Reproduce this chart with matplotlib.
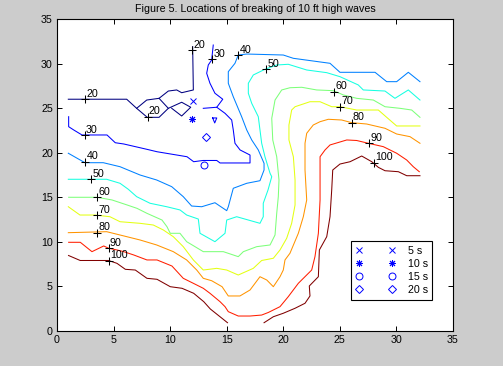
import matplotlib
matplotlib.use('Agg')
import matplotlib.pyplot as plt
from matplotlib.lines import Line2D

plt.rcParams['font.family'] = ['Liberation Sans', 'DejaVu Sans']

# contour levels (wave height index) and the traced contour pieces
levels = [20, 30, 40, 50, 60, 70, 80, 90, 100]

c20 = [
    [(1.0, 26.0), (6.16, 26.0), (7.04, 24.98), (7.98, 23.97), (9.02, 23.97), (9.84, 24.98),
     (11.02, 25.66), (11.82, 25.1), (11.02, 24.12), (10.14, 24.98)],
    [(7.04, 24.98), (7.93, 25.91), (9.02, 26.1), (9.84, 26.92), (10.58, 27.04), (11.02, 26.73),
     (12.05, 27.04), (11.99, 31.9)],
    [(9.02, 26.1), (9.84, 24.98)],
]
c30 = [
    [(1.03, 24.04), (1.03, 22.92), (1.48, 22.55), (2.21, 21.99), (4.42, 21.99), (5.15, 21.12),
     (5.9, 20.98), (7.95, 20.38), (8.84, 20.11), (11.49, 19.55), (12.08, 18.99), (12.9, 19.13),
     (14.12, 19.13), (14.41, 18.85), (17.06, 18.85), (17.06, 19.74), (16.18, 20.31), (15.73, 21.06),
     (15.58, 22.55), (15.44, 23.67), (14.85, 24.42), (14.12, 25.1), (12.93, 24.98)],
    [(13.81, 32.08), (13.67, 30.4), (13.37, 29.84), (13.23, 28.91), (13.52, 27.79), (13.96, 26.67),
     (14.65, 26.0), (14.12, 25.1)],
    [(13.76, 23.9), (14.12, 23.9), (13.94, 23.34), (13.76, 23.9)],
]
c40 = [
    [(32.08, 27.97), (31.05, 29.02), (30.02, 27.97), (29.14, 27.97), (28.11, 29.02), (25.01, 29.02),
     (24.13, 30.03), (20.89, 30.59), (20.0, 30.96), (16.77, 31.07), (16.02, 30.96), (15.73, 30.03),
     (15.14, 29.09), (15.14, 27.79), (15.58, 26.28), (16.32, 24.04), (16.77, 22.55), (17.21, 21.43),
     (17.79, 20.31), (18.3, 18.81), (18.3, 18.06), (17.94, 16.86), (16.77, 16.57), (15.58, 16.01),
     (15.14, 13.94), (15.0, 13.5), (13.96, 14.39), (12.79, 13.94), (11.9, 14.02), (11.16, 15.07),
     (10.14, 16.19), (8.81, 16.94), (7.34, 17.5), (5.57, 18.43), (4.09, 18.88), (2.47, 18.88),
     (1.0, 19.94)],
]
c50 = [
    [(32.08, 25.91), (31.05, 27.04), (29.87, 26.1), (28.99, 26.92), (27.07, 27.04), (26.63, 27.6),
     (25.01, 28.53), (23.84, 28.98), (22.07, 29.28), (20.44, 29.92), (19.42, 29.84), (18.38, 29.36),
     (17.35, 28.72), (16.91, 27.79), (16.91, 26.67), (17.21, 25.54), (17.79, 24.04), (17.94, 22.55),
     (18.09, 21.06), (18.38, 19.55), (18.83, 17.69), (18.98, 17.31), (18.65, 15.82), (18.23, 14.33),
     (18.23, 12.82), (17.94, 12.08), (16.91, 12.45), (15.88, 12.82), (15.0, 12.45), (14.85, 10.96),
     (13.96, 10.02), (12.64, 10.96), (12.49, 12.56), (11.46, 13.01), (10.87, 13.58), (9.7, 13.94),
     (8.22, 14.33), (7.04, 15.07), (6.3, 15.9), (5.57, 16.57), (4.39, 17.02), (1.0, 17.02)],
]
c60 = [
    [(32.08, 23.97), (31.35, 24.79), (30.32, 24.98), (28.99, 25.16), (27.96, 25.91), (26.49, 26.1),
     (25.31, 26.48), (24.42, 26.96), (22.95, 27.04), (21.63, 27.34), (20.59, 27.29), (19.86, 27.04),
     (19.27, 25.91), (18.98, 23.86), (19.07, 21.43), (19.42, 19.55), (19.62, 16.94), (19.56, 15.07),
     (19.42, 13.2), (19.27, 10.77), (18.83, 9.65), (17.65, 9.46), (16.47, 8.9), (16.02, 8.34),
     (14.7, 8.9), (12.93, 8.9), (12.2, 9.46), (11.46, 10.02), (10.87, 10.96), (10.01, 10.96),
     (9.72, 11.7), (9.28, 12.45), (7.95, 13.2), (7.07, 13.76), (6.19, 14.14), (4.86, 14.7),
     (3.54, 15.0), (1.03, 15.0)],
]
c70 = [
    [(32.08, 23.0), (30.02, 23.0), (29.14, 23.97), (28.4, 24.79), (26.49, 24.79), (25.01, 25.16),
     (24.28, 25.16), (23.25, 25.72), (22.36, 25.72), (21.04, 25.16), (20.74, 24.79), (20.5, 23.11),
     (20.5, 21.43), (20.89, 19.55), (21.04, 16.94), (21.04, 14.14), (20.74, 12.08), (20.3, 10.4),
     (19.71, 9.09), (19.12, 8.16), (18.09, 7.91), (17.35, 7.03), (16.02, 6.28), (15.0, 6.84),
     (14.12, 7.03), (12.93, 6.84), (12.05, 7.97), (11.16, 9.46), (10.28, 10.58), (9.4, 11.33),
     (8.51, 11.89), (7.34, 12.08), (5.57, 12.26), (4.68, 12.82), (3.36, 13.01), (2.03, 13.01),
     (1.0, 13.94)],
]
c80 = [
    [(32.08, 21.06), (31.64, 21.43), (31.2, 21.8), (30.02, 22.1), (28.99, 22.74), (27.37, 23.22),
     (26.05, 23.37), (25.16, 23.67), (23.98, 23.75), (23.25, 23.48), (22.65, 23.11), (22.07, 22.18),
     (21.92, 21.06), (21.92, 18.06), (22.07, 14.7), (21.77, 12.82), (21.33, 10.96), (20.59, 8.72),
     (20.15, 7.97), (20.0, 6.84), (19.71, 6.09), (19.12, 4.97), (18.54, 5.72), (17.94, 6.09),
     (17.06, 4.6), (16.17, 3.93), (15.14, 3.93), (14.59, 4.97), (13.67, 5.64), (12.93, 5.91),
     (12.35, 6.84), (11.46, 7.97), (10.28, 8.9), (8.81, 9.65), (7.34, 10.21), (5.57, 10.77),
     (4.39, 11.14), (1.0, 11.03)],
]
c90 = [
    [(32.02, 17.87), (31.49, 18.43), (30.91, 19.18), (30.02, 19.94), (28.84, 20.68), (27.51, 21.06),
     (26.49, 21.37), (25.61, 21.43), (24.13, 20.87), (23.69, 20.31), (23.25, 19.55), (23.25, 14.7),
     (23.1, 10.96), (22.8, 8.34), (22.51, 6.84), (21.33, 5.35), (20.44, 3.85), (19.71, 2.73),
     (18.68, 2.08), (18.09, 1.79), (17.06, 1.68), (16.02, 1.68), (15.14, 2.17), (14.85, 2.73),
     (14.41, 3.29), (13.52, 4.23), (12.93, 4.79), (12.05, 5.35), (11.16, 5.91), (10.16, 7.29),
     (8.84, 7.97), (7.95, 7.97), (6.78, 8.53), (5.9, 8.9), (5.3, 9.09), (4.57, 9.28), (4.13, 9.54),
     (3.09, 8.9), (2.06, 9.95), (1.03, 9.95)],
]
c100 = [
    [(1.02, 8.47), (2.05, 7.91), (4.55, 7.91), (5.3, 7.59), (6.04, 6.92), (6.92, 6.84), (7.95, 5.91),
     (8.84, 5.8), (10.01, 4.97), (11.05, 4.79), (12.08, 4.23), (12.97, 3.29), (13.55, 2.47),
     (14.41, 1.6), (15.07, 0.93)],
    [(18.3, 0.93), (19.12, 1.6), (20.0, 1.99), (21.04, 2.55), (21.92, 3.11), (22.36, 3.93),
     (22.3, 5.05), (23.1, 6.09), (23.19, 9.09), (23.84, 10.58), (24.13, 12.82), (24.28, 15.82),
     (24.37, 18.06), (25.01, 18.73), (25.9, 18.99), (26.93, 19.63), (27.82, 18.99), (28.4, 18.36),
     (28.99, 17.98), (30.17, 17.87), (30.91, 17.42), (32.08, 17.42)],
]

# where the contour labels ("+" and level number) sit
lab20 = [(2.5, 26.0), (8.02, 24.04), (11.96, 31.52)]
lab30 = [(2.47, 21.99), (13.73, 30.51)]
lab40 = [(2.5, 18.99), (16.02, 30.96)]
lab50 = [(3.04, 17.02), (18.47, 29.36)]
lab60 = [(3.54, 15.0), (24.51, 26.85)]
lab70 = [(3.54, 13.01), (25.01, 25.16)]
lab80 = [(3.54, 11.03), (26.05, 23.37)]
lab90 = [(4.57, 9.28), (27.58, 21.12)]
lab100 = [(4.57, 7.89), (28.02, 18.88)]

# breaking locations for each wave period
wave_x = [12.05, 11.96, 13.02, 13.17]
wave_y = [25.8, 23.75, 18.62, 21.73]
periods = ['5 s', '10 s', '15 s', '20 s']
wave_markers = ['x', (8, 2, 0), 'o', 'D']
wave_msize = [4.5, 5, 5, 3.8]

pieces = [c20, c30, c40, c50, c60, c70, c80, c90, c100]
labs = [lab20, lab30, lab40, lab50, lab60, lab70, lab80, lab90, lab100]
cmap = plt.get_cmap('jet')
colors = [cmap(i / (len(levels) - 1)) for i in range(len(levels))]

fig = plt.figure(figsize=(5.03, 3.66), dpi=100, facecolor='#cccccc')
ax = fig.add_axes([57 / 503, 35 / 366, 396 / 503, 312 / 366])
ax.set_facecolor('white')

for lev, col, segs, pts in zip(levels, colors, pieces, labs):
    for seg in segs:
        xs = [p[0] for p in seg]
        ys = [p[1] for p in seg]
        ax.plot(xs, ys, color=col, lw=0.75)
    for (lx, ly) in pts:
        ax.plot(lx, ly, marker='+', color='black', ms=5.5, mew=0.75)
        ax.annotate(str(lev), (lx, ly), xytext=(0.8, 1.6), textcoords='offset points',
                    ha='left', va='baseline', fontsize=7.7)

handles = []
for x, y, m, ms, lab in zip(wave_x, wave_y, wave_markers, wave_msize, periods):
    ax.plot(x, y, linestyle='none', marker=m, ms=ms, color='blue', mfc='none', mew=0.7)
    handles.append(Line2D([], [], linestyle='none', marker=m, ms=ms, color='blue',
                          mfc='none', mew=0.7, label=lab))

leg = ax.legend(handles=handles, loc='upper left', bbox_to_anchor=(0.742, 0.2885),
                borderaxespad=0, numpoints=2, handlelength=3.7, handletextpad=1.15,
                borderpad=0.45, labelspacing=0.28, fontsize=7.7, fancybox=False,
                framealpha=1, edgecolor='black')
leg.get_frame().set_linewidth(0.8)

ax.set_xlim(0, 35)
ax.set_ylim(0, 35)
ax.set_xticks(range(0, 36, 5))
ax.set_yticks(range(0, 36, 5))
ax.tick_params(direction='in', top=True, right=True, length=3.4, width=0.7,
               labelsize=7.7, pad=3)
for sp in ax.spines.values():
    sp.set_linewidth(0.8)

ax.set_title('Figure 5. Locations of breaking of 10 ft high waves', fontsize=7.7, pad=4.8)

fig.savefig('out.png', dpi=100, facecolor=fig.get_facecolor())
